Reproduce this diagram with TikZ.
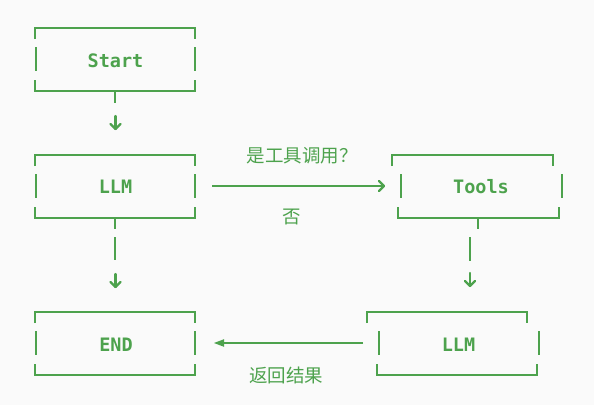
\documentclass[tikz,border=0pt]{standalone}
\usepackage{fontspec}
\setmonofont{DejaVu Sans Mono}
\newfontfamily\cjk{Noto Sans CJK SC}
\definecolor{grn}{RGB}{77,162,77}
\definecolor{bgc}{RGB}{250,250,250}
% ascii-style box: #1 top-left x, #2 top-right x, #3 mid-left x, #4 mid-right x, #5 bottom-left x, #6 bottom-right x, #7 top y
\newcommand\asciibox[7]{%
  \draw[seg] (#1,#7+11) -- (#1,#7) -- (#2,#7) -- (#2,#7+11);
  \draw[seg] (#3,#7+19) -- (#3,#7+43);
  \draw[seg] (#4,#7+19) -- (#4,#7+43);
  \draw[seg] (#5,#7+52) -- (#5,#7+63) -- (#6,#7+63) -- (#6,#7+52);
}
\newcommand\downarrowglyph[2]{%
  \draw[thin,line cap=round,line join=round] (#1,#2) -- (#1,#2+13);
  \draw[thin,line cap=round,line join=round] (#1-5,#2+8) -- (#1,#2+13) -- (#1+5,#2+8);
}
\begin{document}
\begin{tikzpicture}[x=1pt,y=-1pt,
  seg/.style={draw=grn,line width=2.5pt},
  thin/.style={draw=grn,line width=2.2pt},
  boxtext/.style={font=\ttfamily\bfseries\fontsize{18.5}{20}\selectfont,text=grn,anchor=base,inner sep=0pt},
  lab/.style={font=\cjk\fontsize{18.5}{20}\selectfont,text=grn,inner sep=0pt}]
\fill[bgc] (0,0) rectangle (594,405);
\useasboundingbox (0,0) rectangle (594,405);

% boxes
\asciibox{35}{195}{36}{195}{35}{195}{28}
\asciibox{35}{195}{36}{195}{35}{195}{155}
\asciibox{392}{553}{401}{562}{398}{559}{155}
\asciibox{35}{195}{36}{195}{35}{195}{312}
\asciibox{367}{527}{379}{539}{377}{537}{312}

% labels
\node[boxtext] (start) at (115.5,67) {Start};
\node[boxtext] (llma) at (115.5,193) {LLM};
\node[boxtext] (tools) at (481,193) {Tools};
\node[boxtext] (endn) at (116,351) {END};
\node[boxtext] (llmb) at (458.5,351) {LLM};

% Start -> LLM
\coordinate (s1) at (115,92);
\coordinate (s2) at (115,103);
\draw[thin] (s1) -- (s2);
\downarrowglyph{115.5}{116}

% LLM -> END
\draw[thin] (115,218) -- (115,229);
\draw[thin] (115,237) -- (115,260);
\downarrowglyph{115.5}{274}

% Tools -> LLM
\draw[thin] (478,218) -- (478,229);
\draw[thin] (470,237) -- (470,261);
\downarrowglyph{470}{273}

% LLM -> Tools
\coordinate (a1) at (212,186);
\coordinate (a2) at (384,186);
\draw[thin] (a1) -- (a2);
\draw[thin,line join=round,line cap=round] (379,181) -- (a2) -- (379,191);
\node[lab] (yes) at (302,155.5) {是工具调用？};
\node[lab] (no) at (291.5,217) {否};

% LLM -> END (return)
\coordinate (b1) at (363,343);
\coordinate (b2) at (218,343);
\draw[thin] (b1) -- (b2);
\fill[grn] (214,343) -- (224,339.2) -- (224,346.8) -- cycle;
\node[lab] (ret) at (286,375) {返回结果};
\end{tikzpicture}
\end{document}
